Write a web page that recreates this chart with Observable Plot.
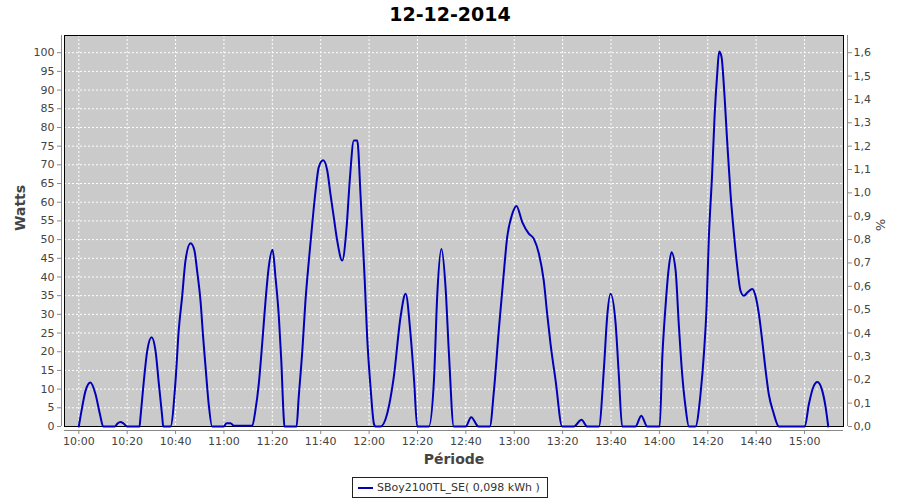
<!DOCTYPE html>
<html>
<head>
<meta charset="utf-8">
<script src="https://cdn.jsdelivr.net/npm/d3@7"></script>
<script src="https://cdn.jsdelivr.net/npm/@observablehq/plot@0.6"></script>
<style>
  html, body { margin: 0; padding: 0; background: #fff; }
  #wrap { width: 900px; height: 500px; position: relative; font-family: "DejaVu Sans", sans-serif; }
  #title { height: 34px; line-height: 29px; text-align: center; font-weight: bold; font-size: 19px; color: #000; }
  #legend { position: absolute; left: 352px; top: 477px; width: 194px; height: 19px; border: 1px solid #222;
            font-size: 11px; color: #333; display: flex; align-items: center; box-sizing: content-box; }
  #legend .sw { width: 15px; height: 2px; background: #0000b8; margin: 0 4px 0 5px; }
</style>
</head>
<body>
<div id="wrap">
  <div id="title">12-12-2014</div>
  <div id="chart"></div>
  <div id="legend"><span class="sw"></span><span>SBoy2100TL_SE( 0,098 kWh )</span></div>
</div>
<script>
// Minutes after 10:00 and power in watts
const minutesAfter10 = [
  0, 1.4, 2.8, 4.8, 6.9, 8.7, 10.1,
  14.9, 16.0, 17.2, 18.5, 20.0,
  25.1, 25.5, 26.9, 28.3, 30.1, 31.7, 33.1, 34.5, 34.9,
  37.9, 40.0, 41.3, 42.7, 44.1, 46.2, 47.8, 48.9, 50.3, 51.4, 52.4, 53.7, 55.1,
  59.9, 61.1, 62.7, 64.1, 71.7,
  73.0, 74.4, 75.8, 77.2, 78.5, 80.1, 81.3, 82.7, 83.7, 84.7, 85.0,
  90.0, 90.9, 92.4, 93.7, 95.1, 96.5, 97.9, 99.2, 101.0, 102.7, 104.0, 105.4, 106.8, 108.9,
  110.7, 112.0, 113.7, 115.1, 116.5, 118.2, 119.2, 120.6, 122.0, 122.6,
  124.7, 127.5, 130.2, 133.0, 135.1, 137.1, 138.6, 139.9,
  144.7, 146.8, 148.2, 149.9, 151.6, 153.0, 155.0,
  159.9, 162.2, 165.2,
  169.9, 171.6, 173.6, 175.4, 177.1, 179.2, 180.9, 183.3, 186.0, 188.1, 190.2, 192.2, 193.6, 195.0, 197.1, 199.8,
  204.6, 207.8, 210.2,
  215.0, 217.1, 218.4, 219.8, 221.9, 223.2, 224.6,
  230.1, 232.5, 235.0,
  240.1, 241.2, 242.5, 243.9, 245.0, 246.7, 248.0, 249.4, 250.8, 252.2,
  254.9, 257.0, 258.4, 259.5, 260.4, 261.8, 262.8, 263.9, 264.7, 265.7, 266.6, 268.0, 269.4, 270.8,
  272.2, 273.5, 274.9, 276.5, 278.4, 279.7, 281.1, 282.5, 283.9, 285.2, 287.1, 289.4,
  300.1, 301.8, 303.6, 305.3, 307.3, 308.7, 309.8
];
const watts = [
  0, 5.2, 9.6, 11.8, 8.7, 3.4, 0,
  0, 0.8, 1.2, 0.8, 0,
  0, 2.5, 12.3, 20.3, 23.9, 20.3, 11.4, 2.5, 0,
  0, 12.3, 25.7, 34.6, 44.4, 49, 47.1, 41.7, 33.7, 23.9, 15.9, 6, 0,
  0, 0.9, 0.9, 0.2, 0.2,
  4.3, 11.4, 22.1, 33.7, 42.6, 47.3, 40, 29.3, 17.7, 2.5, 0,
  0, 7.8, 20.3, 33.7, 44.4, 54.2, 63.2, 69.4, 71.2, 68.5, 62.3, 56, 49.8, 44.4,
  53.3, 65.8, 76.5, 76.5, 61.4, 39, 23.9, 10.5, 0.7, 0,
  0, 3.5, 13.2, 29.3, 35.5, 24.9, 12.3, 0,
  0, 12.3, 35.5, 47.5, 37.3, 19.5, 0,
  0, 2.5, 0,
  0, 9.6, 25.7, 39, 50.7, 56.9, 59, 54.7, 51.6, 50.2, 46.2, 39, 30.2, 22.1, 12.3, 0,
  0, 1.8, 0,
  0, 15.9, 29.3, 35.5, 27.5, 14.1, 0,
  0, 2.9, 0,
  0, 18.5, 31.9, 42.6, 46.6, 41.7, 27.5, 14.1, 5.2, 0,
  0, 8.7, 19.5, 31.9, 49.8, 67.6, 82.8, 94.4, 100.3, 98.8, 91.7, 76.5, 62.3, 51.6,
  42.6, 36.4, 35, 35.9, 36.8, 35, 30.2, 23, 15, 8.7, 3.8, 0,
  0, 6, 10.5, 11.9, 9.6, 5.2, 0
];
const xTickLabels = ["10:00","10:20","10:40","11:00","11:20","11:40","12:00","12:20","12:40","13:00","13:20","13:40","14:00","14:20","14:40","15:00"];
const wattTicks = [0,5,10,15,20,25,30,35,40,45,50,55,60,65,70,75,80,85,90,95,100];
const percentTicks = [0,0.1,0.2,0.3,0.4,0.5,0.6,0.7,0.8,0.9,1.0,1.1,1.2,1.3,1.4,1.5,1.6];
const percentPerWatt = 0.016;

const day = Date.UTC(2014, 11, 12);
const toDate = m => new Date(day + (10 * 60 + m) * 60000);
const parseHM = s => { const [h, m] = s.split(":").map(Number); return new Date(day + (h * 60 + m) * 60000); };
const data = minutesAfter10.map((m, i) => ({time: toDate(m), watts: watts[i]}));
const xTicks = xTickLabels.map(parseHM);
const fmt = d3.utcFormat("%H:%M");
const pctFmt = w => (w * percentPerWatt).toFixed(1).replace(".", ",");
const rightTicks = percentTicks.map(p => p / percentPerWatt);

const chart = Plot.plot({
  width: 900,
  height: 440,
  marginTop: 1,
  marginBottom: 48,
  marginLeft: 64,
  marginRight: 57,
  style: {fontFamily: "DejaVu Sans, sans-serif", fontSize: "11px", background: "transparent"},
  x: {type: "utc", domain: [toDate(-5.91), toDate(316.1)]},
  y: {domain: [0, 104.6]},
  marks: [
    Plot.frame({fill: "#cacaca", stroke: null}),
    Plot.gridY(wattTicks, {stroke: "#fff", strokeOpacity: 1, strokeDasharray: "2,2"}),
    Plot.gridX(xTicks, {stroke: "#fff", strokeOpacity: 1, strokeDasharray: "2,2"}),
    Plot.frame({stroke: "#000", strokeWidth: 1}),
    Plot.line(data, {x: "time", y: "watts", stroke: "#0000b8", strokeWidth: 2, curve: "monotone-x"}),
    // axis lines (offset like the original)
    Plot.ruleX([toDate(-5.91)], {dx: -3, stroke: "#888"}),
    Plot.ruleX([toDate(316.1)], {dx: 4, stroke: "#888"}),
    Plot.ruleY([0], {dy: 4, stroke: "#888"}),
    Plot.axisY(wattTicks, {anchor: "left", dx: -3, tickSize: 4, tickPadding: 3, stroke: "#888", fill: "#444", label: null}),
    Plot.axisY(rightTicks, {anchor: "right", dx: 4, tickSize: 4, tickPadding: 2, stroke: "#888", fill: "#444", tickFormat: pctFmt, label: null}),
    Plot.axisX(xTicks, {anchor: "bottom", dy: 4, tickSize: 4, tickPadding: 3, stroke: "#888", fill: "#444", tickFormat: fmt, label: null}),
    Plot.text(["Watts"], {frameAnchor: "left", dx: -44, rotate: -90, fontWeight: "bold", fontSize: 14, fill: "#444"}),
    Plot.text(["%"], {frameAnchor: "right", dx: 37, rotate: 90, fontSize: 13, fill: "#444"}),
    Plot.text(["Période"], {frameAnchor: "bottom", dy: 37, fontWeight: "bold", fontSize: 14, fill: "#444"})
  ]
});
document.getElementById("chart").appendChild(chart);
</script>
</body>
</html>
